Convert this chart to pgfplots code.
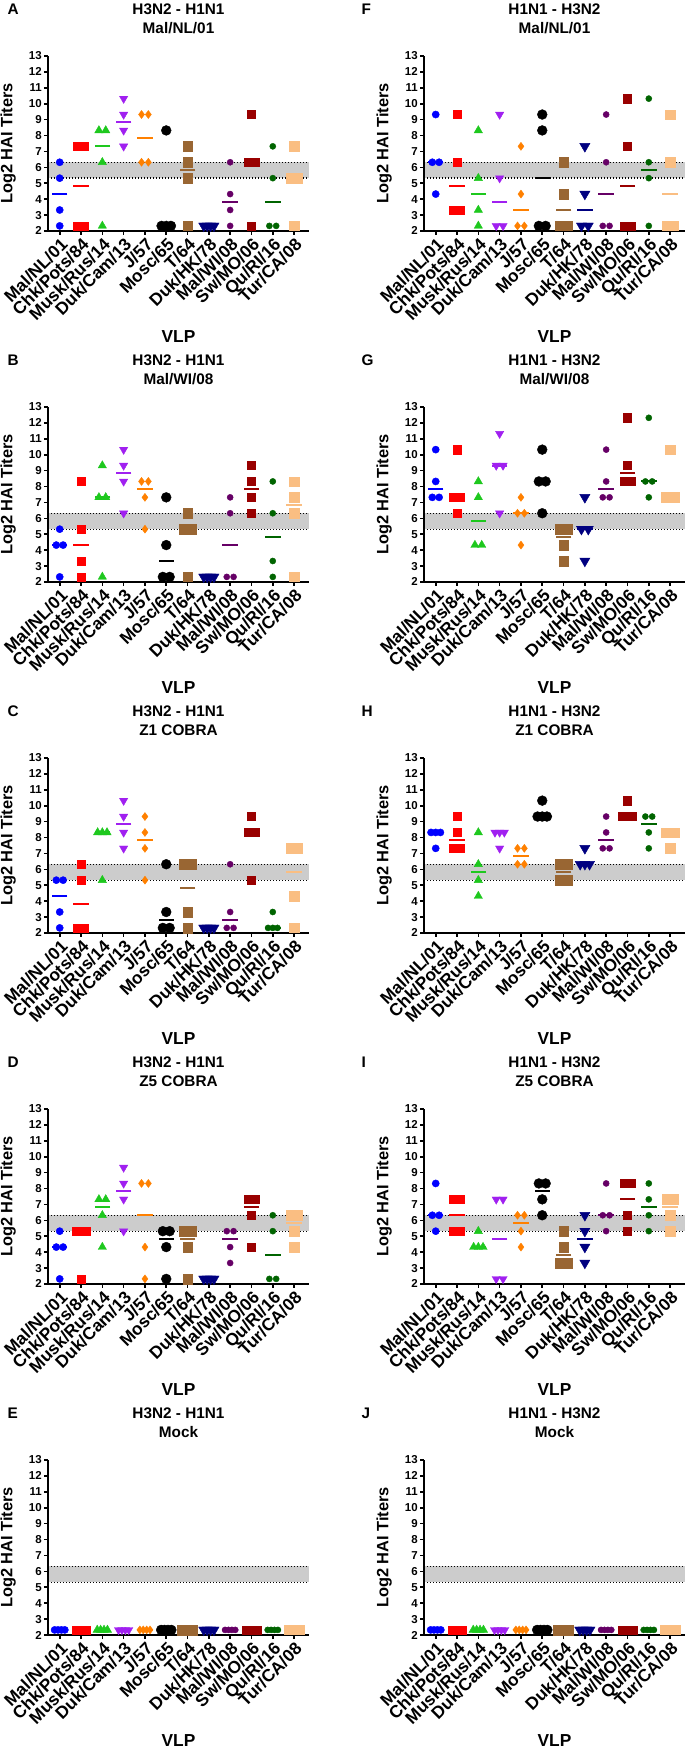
\documentclass[border=0pt]{standalone}
\usepackage{pgfplots}
\pgfplotsset{compat=1.18}
\usepackage{pgfplotstable}
\usepackage{fontspec}
\setmainfont{Liberation Sans}
\definecolor{cA}{RGB}{0,0,255}
\definecolor{cB}{RGB}{255,0,0}
\definecolor{cC}{RGB}{30,200,30}
\definecolor{cD}{RGB}{160,32,240}
\definecolor{cE}{RGB}{255,128,0}
\definecolor{cF}{RGB}{0,0,0}
\definecolor{cG}{RGB}{153,102,51}
\definecolor{cH}{RGB}{0,0,128}
\definecolor{cI}{RGB}{102,0,102}
\definecolor{cJ}{RGB}{153,0,0}
\definecolor{cK}{RGB}{0,100,0}
\definecolor{cL}{RGB}{250,190,130}
\definecolor{bandgray}{RGB}{204,204,204}
\pgfdeclareplotmark{triup}{\pgfpathmoveto{\pgfqpointpolar{90}{\pgfplotmarksize}}\pgfpathlineto{\pgfqpointpolar{210}{\pgfplotmarksize}}\pgfpathlineto{\pgfqpointpolar{330}{\pgfplotmarksize}}\pgfpathclose\pgfusepathqfillstroke}
\pgfdeclareplotmark{tridn}{\pgfpathmoveto{\pgfqpointpolar{270}{\pgfplotmarksize}}\pgfpathlineto{\pgfqpointpolar{30}{\pgfplotmarksize}}\pgfpathlineto{\pgfqpointpolar{150}{\pgfplotmarksize}}\pgfpathclose\pgfusepathqfillstroke}
\newcommand\ttl{\bfseries\fontsize{11.5}{13}\selectfont}
\pgfplotsset{
 panel/.style={
  width=195.75pt, height=131.25pt, scale only axis,
  xmin=-0.55, xmax=11.7, ymin=2, ymax=13,
  clip=false, axis on top,
  axis x line*=bottom, axis y line*=left,
  axis line style={line width=1.5pt, black},
  xtick={0,...,11},
  xticklabels={Mal/NL/01,Chk/Pots/84,Musk/Rus/14,Duk/Cam/13,J/57,Mosc/65,T/64,Duk/HK/78,Mal/WI/08,Sw/MO/06,Qu/RI/16,Tur/CA/08},
  ytick={2,...,13},
  tick align=outside, major tick length=3pt,
  tick style={line width=1.2pt, black},
  /pgf/number format/assume math mode=true,
  x tick label style={rotate=45, anchor=north east, inner sep=1pt, font=\bfseries\fontsize{13}{14}\selectfont},
  y tick label style={inner sep=1.5pt, font=\bfseries\fontsize{8.6}{9}\selectfont},
  ylabel={Log2 HAI Titers},
  ylabel style={at={(axis description cs:-0.153,0.5)}, anchor=center, rotate=0, font=\bfseries\fontsize{12.3}{13}\selectfont},
  xlabel={VLP},
  xlabel style={at={(axis description cs:0.5,0)}, anchor=center, yshift=-79.5pt, font=\bfseries\fontsize{13}{14}\selectfont},
 },
 pts/.style={scatter, only marks, scatter src=explicit symbolic, mark options={line width=0.3pt},
  scatter/classes={
   a={mark=*, mark size=2.7pt, draw=cA, fill=cA},
   b={mark=square*, mark size=3.1pt, draw=cB, fill=cB},
   c={mark=triup, mark size=3.6pt, draw=cC, fill=cC},
   d={mark=tridn, mark size=3.6pt, draw=cD, fill=cD},
   e={mark=diamond*, mark size=3pt, draw=cE, fill=cE},
   f={mark=*, mark size=3.7pt, draw=cF, fill=cF},
   g={mark=square*, mark size=3.6pt, draw=cG, fill=cG},
   h={mark=tridn, mark size=4.4pt, draw=cH, fill=cH},
   i={mark=*, mark size=2.3pt, draw=cI, fill=cI},
   j={mark=square*, mark size=3.1pt, draw=cJ, fill=cJ},
   k={mark=*, mark size=2.3pt, draw=cK, fill=cK},
   l={mark=square*, mark size=3.5pt, draw=cL, fill=cL}}},
 meds/.style={scatter, only marks, scatter src=explicit symbolic, mark=-, mark size=5.8pt, mark options={line width=1.5pt},
  scatter/classes={a={cA},b={cB},c={cC},d={cD},e={cE},f={cF},g={cG},h={cH},i={cI},j={cJ},k={cK},l={cL}}},
}
\newcommand{\panel}[8]{%
\begin{axis}[panel, at={(#1,#2)}, anchor=south west]
 \fill[bandgray] (axis cs:-0.55,5.32) rectangle (axis cs:11.7,6.32);
 \draw[line width=1pt, dash pattern=on 1pt off 1.25pt] (axis cs:-0.55,5.32) -- (axis cs:11.7,5.32);
 \draw[line width=1pt, dash pattern=on 1pt off 1.25pt] (axis cs:-0.55,6.32) -- (axis cs:11.7,6.32);
 \addplot[meds] table[meta=c]{#7};
 \addplot[pts] table[meta=c]{#6};
 \node[anchor=base, font=\ttl] at (rel axis cs:0.5,1) [yshift=31.3pt] {#4};
 \node[anchor=base, font=\ttl] at (rel axis cs:0.5,1) [yshift=17pt] {#5};
 \node[anchor=base west, font=\ttl, xshift=#8, yshift=31.3pt] at (rel axis cs:0,1) {#3};
\end{axis}}

% ---------------- data ----------------
\pgfplotstableread{
x y c
0 6.32 a
0 5.32 a
0 3.32 a
0 2.32 a
0.84 7.32 b
1.16 7.32 b
0.84 2.32 b
1.16 2.32 b
1.84 8.32 c
2.16 8.32 c
2 6.32 c
2 2.32 c
3 10.32 d
3 9.32 d
3 8.32 d
3 7.32 d
3.84 9.32 e
4.16 9.32 e
3.84 6.32 e
4.16 6.32 e
5 8.32 f
4.78 2.32 f
5 2.32 f
5.22 2.32 f
6 7.32 g
6 6.32 g
6 5.32 g
6 2.32 g
6.76 2.32 h
6.92 2.32 h
7.08 2.32 h
7.24 2.32 h
8 6.32 i
8 4.32 i
8 3.32 i
8 2.32 i
9 9.32 j
8.84 6.32 j
9.16 6.32 j
9 2.32 j
10 7.32 k
10 5.32 k
9.84 2.32 k
10.16 2.32 k
11 7.32 l
10.84 5.32 l
11.16 5.32 l
11 2.32 l
}\pA
\pgfplotstableread{
x y c
0 4.32 a
1 4.82 b
2 7.32 c
3 8.82 d
4 7.82 e
5 2.32 f
6 5.82 g
7 2.32 h
8 3.82 i
9 6.32 j
10 3.82 k
11 5.32 l
}\mA
\pgfplotstableread{
x y c
0 5.32 a
-0.16 4.32 a
0.16 4.32 a
0 2.32 a
1 8.32 b
1 5.32 b
1 3.32 b
1 2.32 b
2 9.32 c
1.84 7.32 c
2.16 7.32 c
2 2.32 c
3 10.32 d
3 9.32 d
3 8.32 d
3 6.32 d
3.84 8.32 e
4.16 8.32 e
4 7.32 e
4 5.32 e
5 7.32 f
5 4.32 f
4.84 2.32 f
5.16 2.32 f
6 6.32 g
5.84 5.32 g
6.16 5.32 g
6 2.32 g
6.76 2.32 h
6.92 2.32 h
7.08 2.32 h
7.24 2.32 h
8 7.32 i
8 6.32 i
7.84 2.32 i
8.16 2.32 i
9 9.32 j
9 8.32 j
9 7.32 j
9 6.32 j
10 8.32 k
10 6.32 k
10 3.32 k
10 2.32 k
11 8.32 l
11 7.32 l
11 6.32 l
11 2.32 l
}\pB
\pgfplotstableread{
x y c
0 4.32 a
1 4.32 b
2 7.32 c
3 8.82 d
4 7.82 e
5 3.32 f
6 5.32 g
7 2.32 h
8 4.32 i
9 7.82 j
10 4.82 k
11 6.82 l
}\mB
\pgfplotstableread{
x y c
-0.16 5.32 a
0.16 5.32 a
0 3.32 a
0 2.32 a
1 6.32 b
1 5.32 b
0.84 2.32 b
1.16 2.32 b
1.78 8.32 c
2 8.32 c
2.22 8.32 c
2 5.32 c
3 10.32 d
3 9.32 d
3 8.32 d
3 7.32 d
4 9.32 e
4 8.32 e
4 7.32 e
4 5.32 e
5 6.32 f
5 3.32 f
4.84 2.32 f
5.16 2.32 f
5.84 6.32 g
6.16 6.32 g
6 3.32 g
6 2.32 g
6.76 2.32 h
6.92 2.32 h
7.08 2.32 h
7.24 2.32 h
8 6.32 i
8 3.32 i
7.84 2.32 i
8.16 2.32 i
9 9.32 j
8.84 8.32 j
9.16 8.32 j
9 5.32 j
10 3.32 k
9.78 2.32 k
10 2.32 k
10.22 2.32 k
10.84 7.32 l
11.16 7.32 l
11 4.32 l
11 2.32 l
}\pC
\pgfplotstableread{
x y c
0 4.32 a
1 3.82 b
2 8.32 c
3 8.82 d
4 7.82 e
5 2.82 f
6 4.82 g
7 2.32 h
8 2.82 i
9 8.32 j
10 2.32 k
11 5.82 l
}\mC
\pgfplotstableread{
x y c
0 5.32 a
-0.16 4.32 a
0.16 4.32 a
0 2.32 a
0.78 5.32 b
1 5.32 b
1.22 5.32 b
1 2.32 b
1.84 7.32 c
2.16 7.32 c
2 6.32 c
2 4.32 c
3 9.32 d
3 8.32 d
3 7.32 d
3 5.32 d
3.84 8.32 e
4.16 8.32 e
4 4.32 e
4 2.32 e
4.84 5.32 f
5.16 5.32 f
5 4.32 f
5 2.32 f
5.84 5.32 g
6.16 5.32 g
6 4.32 g
6 2.32 g
6.76 2.32 h
6.92 2.32 h
7.08 2.32 h
7.24 2.32 h
7.84 5.32 i
8.16 5.32 i
8 4.32 i
8 3.32 i
8.84 7.32 j
9.16 7.32 j
9 6.32 j
9 4.32 j
10 6.32 k
10 5.32 k
9.84 2.32 k
10.16 2.32 k
10.84 6.32 l
11.16 6.32 l
11 5.32 l
11 4.32 l
}\pD
\pgfplotstableread{
x y c
0 4.32 a
1 5.32 b
2 6.82 c
3 7.82 d
4 6.32 e
5 4.82 f
6 4.82 g
7 2.32 h
8 4.82 i
9 6.82 j
10 3.82 k
11 5.82 l
}\mD
\pgfplotstableread{
x y c
-0.24 2.32 a
-0.08 2.32 a
0.08 2.32 a
0.24 2.32 a
0.76 2.32 b
0.92 2.32 b
1.08 2.32 b
1.24 2.32 b
1.76 2.32 c
1.92 2.32 c
2.08 2.32 c
2.24 2.32 c
2.76 2.32 d
2.92 2.32 d
3.08 2.32 d
3.24 2.32 d
3.76 2.32 e
3.92 2.32 e
4.08 2.32 e
4.24 2.32 e
4.76 2.32 f
4.92 2.32 f
5.08 2.32 f
5.24 2.32 f
5.76 2.32 g
5.92 2.32 g
6.08 2.32 g
6.24 2.32 g
6.76 2.32 h
6.92 2.32 h
7.08 2.32 h
7.24 2.32 h
7.76 2.32 i
7.92 2.32 i
8.08 2.32 i
8.24 2.32 i
8.76 2.32 j
8.92 2.32 j
9.08 2.32 j
9.24 2.32 j
9.76 2.32 k
9.92 2.32 k
10.08 2.32 k
10.24 2.32 k
10.76 2.32 l
10.92 2.32 l
11.08 2.32 l
11.24 2.32 l
}\pMock
\pgfplotstableread{
x y c
0 2.32 a
1 2.32 b
2 2.32 c
3 2.32 d
4 2.32 e
5 2.32 f
6 2.32 g
7 2.32 h
8 2.32 i
9 2.32 j
10 2.32 k
11 2.32 l
}\mMock
\pgfplotstableread{
x y c
0 9.32 a
-0.16 6.32 a
0.16 6.32 a
0 4.32 a
1 9.32 b
1 6.32 b
0.84 3.32 b
1.16 3.32 b
2 8.32 c
2 5.32 c
2 3.32 c
2 2.32 c
3 9.32 d
3 5.32 d
2.84 2.32 d
3.16 2.32 d
4 7.32 e
4 4.32 e
3.84 2.32 e
4.16 2.32 e
5 9.32 f
5 8.32 f
4.84 2.32 f
5.16 2.32 f
6 6.32 g
6 4.32 g
5.84 2.32 g
6.16 2.32 g
7 7.32 h
7 4.32 h
6.84 2.32 h
7.16 2.32 h
8 9.32 i
8 6.32 i
7.84 2.32 i
8.16 2.32 i
9 10.32 j
9 7.32 j
8.84 2.32 j
9.16 2.32 j
10 10.32 k
10 6.32 k
10 5.32 k
10 2.32 k
11 9.32 l
11 6.32 l
10.84 2.32 l
11.16 2.32 l
}\pF
\pgfplotstableread{
x y c
0 6.32 a
1 4.82 b
2 4.32 c
3 3.82 d
4 3.32 e
5 5.32 f
6 3.32 g
7 3.32 h
8 4.32 i
9 4.82 j
10 5.82 k
11 4.32 l
}\mF
\pgfplotstableread{
x y c
0 10.32 a
0 8.32 a
-0.16 7.32 a
0.16 7.32 a
1 10.32 b
0.84 7.32 b
1.16 7.32 b
1 6.32 b
2 8.32 c
2 7.32 c
1.84 4.32 c
2.16 4.32 c
3 11.32 d
2.84 9.32 d
3.16 9.32 d
3 6.32 d
4 7.32 e
3.84 6.32 e
4.16 6.32 e
4 4.32 e
5 10.32 f
4.84 8.32 f
5.16 8.32 f
5 6.32 f
5.84 5.32 g
6.16 5.32 g
6 4.32 g
6 3.32 g
7 7.32 h
6.84 5.32 h
7.16 5.32 h
7 3.32 h
8 10.32 i
8 8.32 i
7.84 7.32 i
8.16 7.32 i
9 12.32 j
9 9.32 j
8.84 8.32 j
9.16 8.32 j
10 12.32 k
9.84 8.32 k
10.16 8.32 k
10 7.32 k
11 10.32 l
10.78 7.32 l
11 7.32 l
11.22 7.32 l
}\pG
\pgfplotstableread{
x y c
0 7.82 a
1 7.32 b
2 5.82 c
3 9.32 d
4 6.32 e
5 8.32 f
6 4.82 g
7 5.32 h
8 7.82 i
9 8.82 j
10 8.32 k
11 7.32 l
}\mG
\pgfplotstableread{
x y c
-0.22 8.32 a
0 8.32 a
0.22 8.32 a
0 7.32 a
1 9.32 b
1 8.32 b
0.84 7.32 b
1.16 7.32 b
2 8.32 c
2 6.32 c
2 5.32 c
2 4.32 c
2.78 8.32 d
3 8.32 d
3.22 8.32 d
3 7.32 d
3.84 7.32 e
4.16 7.32 e
3.84 6.32 e
4.16 6.32 e
5 10.32 f
4.78 9.32 f
5 9.32 f
5.22 9.32 f
5.84 6.32 g
6.16 6.32 g
5.84 5.32 g
6.16 5.32 g
7 7.32 h
6.78 6.32 h
7 6.32 h
7.22 6.32 h
8 9.32 i
8 8.32 i
7.84 7.32 i
8.16 7.32 i
9 10.32 j
8.78 9.32 j
9 9.32 j
9.22 9.32 j
9.84 9.32 k
10.16 9.32 k
10 8.32 k
10 7.32 k
10.78 8.32 l
11 8.32 l
11.22 8.32 l
11 7.32 l
}\pH
\pgfplotstableread{
x y c
0 8.32 a
1 7.82 b
2 5.82 c
3 8.32 d
4 6.82 e
5 9.32 f
6 5.82 g
7 6.32 h
8 7.82 i
9 9.32 j
10 8.82 k
11 8.32 l
}\mH
\pgfplotstableread{
x y c
0 8.32 a
-0.16 6.32 a
0.16 6.32 a
0 5.32 a
0.84 7.32 b
1.16 7.32 b
0.84 5.32 b
1.16 5.32 b
2 5.32 c
1.78 4.32 c
2 4.32 c
2.22 4.32 c
2.84 7.32 d
3.16 7.32 d
2.84 2.32 d
3.16 2.32 d
3.84 6.32 e
4.16 6.32 e
4 5.32 e
4 4.32 e
4.84 8.32 f
5.16 8.32 f
5 7.32 f
5 6.32 f
6 5.32 g
6 4.32 g
5.84 3.32 g
6.16 3.32 g
7 6.32 h
7 5.32 h
7 4.32 h
7 3.32 h
8 8.32 i
7.84 6.32 i
8.16 6.32 i
8 5.32 i
8.84 8.32 j
9.16 8.32 j
9 6.32 j
9 5.32 j
10 8.32 k
10 7.32 k
10 6.32 k
10 5.32 k
10.84 7.32 l
11.16 7.32 l
11 6.32 l
11 5.32 l
}\pI
\pgfplotstableread{
x y c
0 6.32 a
1 6.32 b
2 4.32 c
3 4.82 d
4 5.82 e
5 7.82 f
6 3.82 g
7 4.82 h
8 6.32 i
9 7.32 j
10 6.82 k
11 6.82 l
}\mI

\begin{document}
\begin{tikzpicture}
\useasboundingbox (0,0) rectangle (515.25pt,1311.75pt);
\panel{36pt}{1138.5pt}{A}{H3N2 - H1N1}{Mal/NL/01}{\pA}{\mA}{-33.75pt}
\panel{36pt}{875.25pt}{B}{H3N2 - H1N1}{Mal/WI/08}{\pB}{\mB}{-33.75pt}
\panel{36pt}{612pt}{C}{H3N2 - H1N1}{Z1 COBRA}{\pC}{\mC}{-33.75pt}
\panel{36pt}{348.75pt}{D}{H3N2 - H1N1}{Z5 COBRA}{\pD}{\mD}{-33.75pt}
\panel{36pt}{85.5pt}{E}{H3N2 - H1N1}{Mock}{\pMock}{\mMock}{-33.75pt}
\panel{318pt}{1138.5pt}{F}{H1N1 - H3N2}{Mal/NL/01}{\pF}{\mF}{-50.25pt}
\panel{318pt}{875.25pt}{G}{H1N1 - H3N2}{Mal/WI/08}{\pG}{\mG}{-50.25pt}
\panel{318pt}{612pt}{H}{H1N1 - H3N2}{Z1 COBRA}{\pH}{\mH}{-50.25pt}
\panel{318pt}{348.75pt}{I}{H1N1 - H3N2}{Z5 COBRA}{\pI}{\mI}{-50.25pt}
\panel{318pt}{85.5pt}{J}{H1N1 - H3N2}{Mock}{\pMock}{\mMock}{-50.25pt}
\end{tikzpicture}
\end{document}
